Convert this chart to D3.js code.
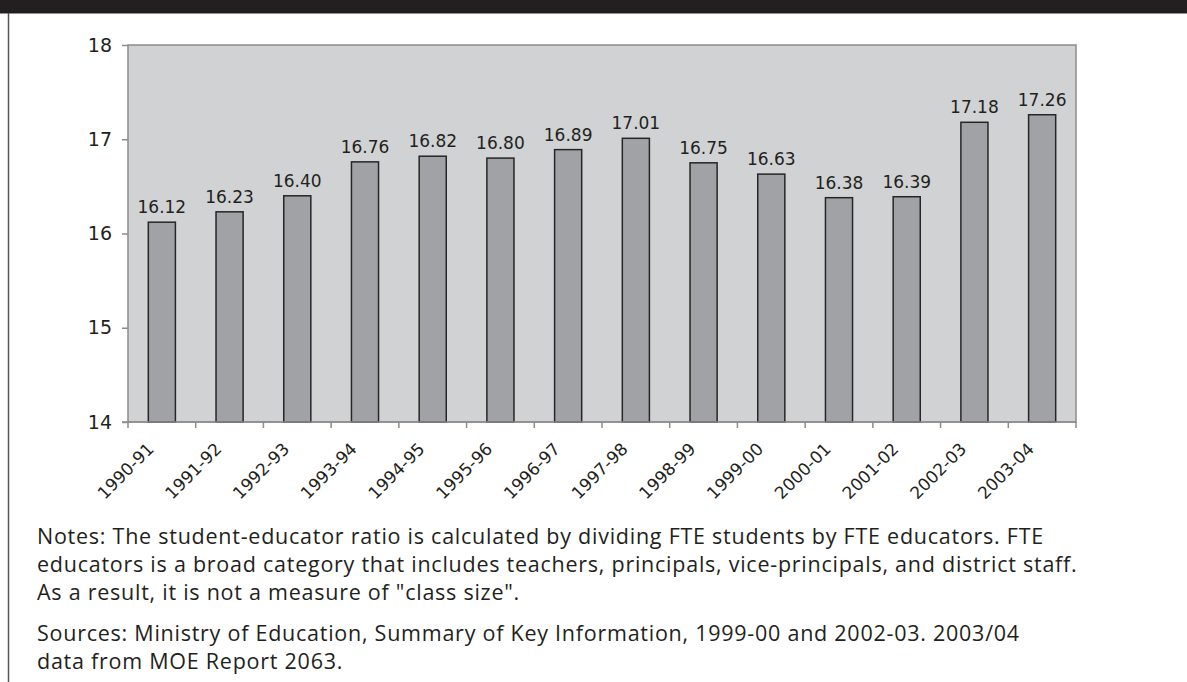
<!DOCTYPE html>
<html lang="en">
<head>
<meta charset="UTF-8">
<title>Student-educator ratio</title>
<script src="https://d3js.org/d3.v7.min.js"></script>
<style>
  body { margin: 0; background: #fff; }
  svg { display: block; }
</style>
</head>
<body>
<div id="chart"></div>
<script>
// data
const years = ["1990-91", "1991-92", "1992-93", "1993-94", "1994-95", "1995-96", "1996-97",
               "1997-98", "1998-99", "1999-00", "2000-01", "2001-02", "2002-03", "2003-04"];
const ratios = [16.12, 16.23, 16.40, 16.76, 16.82, 16.80, 16.89, 17.01, 16.75, 16.63, 16.38, 16.39, 17.18, 17.26];
const yTicks = [14, 15, 16, 17, 18];

const notes = [
  "Notes: The student-educator ratio is calculated by dividing FTE students by FTE educators. FTE",
  "educators is a broad category that includes teachers, principals, vice-principals, and district staff.",
  "As a result, it is not a measure of \"class size\"."
];
const sources = [
  "Sources: Ministry of Education, Summary of Key Information, 1999-00 and 2002-03. 2003/04",
  "data from MOE Report 2063."
];

const W = 1187, H = 682;
const margin = { top: 45, left: 128 };
const width = 1076 - margin.left;
const height = 422 - margin.top;

const svg = d3.select("#chart").append("svg")
    .attr("width", W)
    .attr("height", H);

// black band and left rule
svg.append("rect").attr("x", 0).attr("y", 0).attr("width", W).attr("height", 13.5).attr("fill", "#231f20");
svg.append("line").attr("x1", 8.5).attr("x2", 8.5).attr("y1", 13).attr("y2", H)
    .attr("stroke", "#555").attr("stroke-width", 1.5);

const g = svg.append("g").attr("transform", `translate(${margin.left},${margin.top})`);

const x = d3.scaleBand().domain(years).range([0, width]).paddingInner(0.6).paddingOuter(0.3);
const y = d3.scaleLinear().domain([14, 18]).range([height, 0]);

// plot area
g.append("rect").attr("width", width).attr("height", height)
    .attr("fill", "#d1d2d4").attr("stroke", "#8c8c8c").attr("stroke-width", 1.5);

// bars
g.selectAll(".bar").data(ratios).enter().append("rect")
    .attr("class", "bar")
    .attr("x", (d, i) => x(years[i]))
    .attr("y", d => y(d))
    .attr("width", x.bandwidth())
    .attr("height", d => y(14) - y(d))
    .attr("fill", "#a1a2a5")
    .attr("stroke", "#262626")
    .attr("stroke-width", 1.5);

// value labels
g.selectAll(".val").data(ratios).enter().append("text")
    .attr("class", "val")
    .attr("x", (d, i) => x(years[i]) + x.bandwidth() / 2)
    .attr("y", d => y(d) - 9)
    .attr("text-anchor", "middle")
    .attr("font-family", "DejaVu Sans")
    .attr("font-size", 17)
    .attr("fill", "#231f20")
    .text(d => d.toFixed(2));

// y axis
const yAxis = g.append("g")
    .call(d3.axisLeft(y).tickValues(yTicks).tickSize(6).tickPadding(10).tickFormat(d3.format("d")));
yAxis.select(".domain").remove();
yAxis.selectAll("line").attr("stroke", "#8c8c8c").attr("stroke-width", 1.5);
yAxis.selectAll("text").attr("font-family", "DejaVu Sans").attr("font-size", 19).attr("fill", "#231f20");

// x axis: ticks between categories
const step = x.step();
const xb = g.append("g").attr("transform", `translate(0,${height})`);
xb.append("line").attr("x1", -6).attr("x2", width).attr("stroke", "#8c8c8c").attr("stroke-width", 1.5);
xb.selectAll(".xt").data(d3.range(years.length + 1)).enter().append("line")
    .attr("x1", i => i * step).attr("x2", i => i * step)
    .attr("y1", 0).attr("y2", 6)
    .attr("stroke", "#8c8c8c").attr("stroke-width", 1.5);
xb.selectAll(".xl").data(years).enter().append("text")
    .attr("transform", d => `translate(${x(d) + x.bandwidth() / 2 - 7},${28}) rotate(-45)`)
    .attr("text-anchor", "end")
    .attr("font-family", "DejaVu Sans")
    .attr("font-size", 17)
    .attr("fill", "#231f20")
    .text(d => d);

// notes
const noteFont = "Open Sans";
svg.append("text")
    .attr("x", 37).attr("y", 544)
    .attr("font-family", noteFont).attr("font-size", 21.5).attr("letter-spacing", 0.75).attr("fill", "#231f20")
  .selectAll("tspan").data(notes).enter().append("tspan")
    .attr("x", 37).attr("dy", (d, i) => i === 0 ? 0 : 28)
    .text(d => d);

svg.append("text")
    .attr("x", 37).attr("y", 641)
    .attr("font-family", noteFont).attr("font-size", 21.5).attr("letter-spacing", 0.75).attr("fill", "#231f20")
  .selectAll("tspan").data(sources).enter().append("tspan")
    .attr("x", 37).attr("dy", (d, i) => i === 0 ? 0 : 27.5)
    .text(d => d);
</script>
</body>
</html>
